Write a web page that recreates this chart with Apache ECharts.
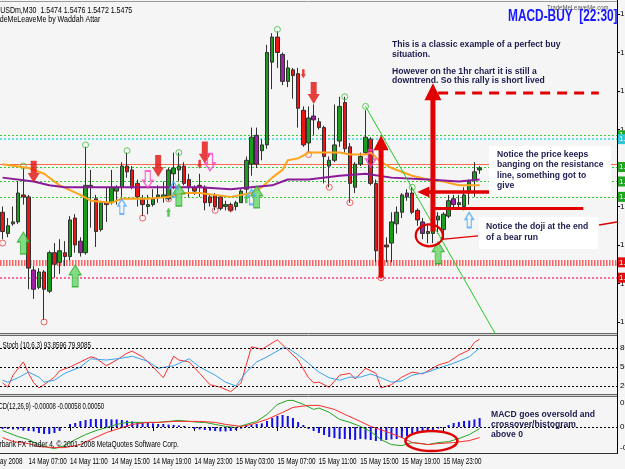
<!DOCTYPE html>
<html>
<head>
<meta charset="utf-8">
<title>GBPUSDm M30 - MACD-BUY</title>
<script src="https://cdn.jsdelivr.net/npm/echarts@6/dist/echarts.min.js"></script>
<style>
html,body{margin:0;padding:0;background:#f5f5f5;}
#chart{width:625px;height:469px;}
</style>
</head>
<body>
<div id="chart"></div>
<script>
// ================= DATA =================
const slotCount = 119;               // category slots on the time axis (chart shifted right)
const tickLabels = ['14 May 07:00','14 May 11:00','14 May 15:00','14 May 19:00','14 May 23:00',
  '15 May 03:00','15 May 07:00','15 May 11:00','15 May 15:00','15 May 19:00','15 May 23:00'];
const tickBars = [5,13,21,29,37,45,53,61,69,77,85];

// [open, close, low, high]
const candles = [
[1.5452,1.5442,1.5438,1.5455],[1.5441,1.5445,1.5439,1.5449],[1.5446,1.5447,1.5445,1.5455],[1.5447,1.5462,1.5446,1.5468],
[1.5461,1.5460,1.5456,1.5475],[1.5460,1.5423,1.5412,1.5461],[1.5422,1.5412,1.5407,1.5424],[1.5413,1.5421,1.5412,1.5423],
[1.5421,1.5412,1.5396,1.5422],[1.5411,1.5431,1.5410,1.5432],[1.5431,1.5425,1.5418,1.5436],[1.5426,1.5432,1.5420,1.5438],
[1.5431,1.5429,1.5424,1.5437],[1.5429,1.5448,1.5427,1.5450],[1.5449,1.5435,1.5431,1.5451],[1.5437,1.5431,1.5429,1.5439],
[1.5431,1.5466,1.5430,1.5486],[1.5465,1.5466,1.5444,1.5474],[1.5459,1.5442,1.5434,1.5461],[1.5443,1.5457,1.5442,1.5458],
[1.5457,1.5456,1.5447,1.5465],[1.5457,1.5465,1.5456,1.5474],[1.5463,1.5465,1.5456,1.5466],[1.5465,1.5476,1.5460,1.5478],
[1.5476,1.5473,1.5470,1.5483],[1.5474,1.5465,1.5464,1.5476],[1.5467,1.5460,1.5455,1.5469],[1.5459,1.5456,1.5450,1.5461],
[1.5455,1.5456,1.5451,1.5461],[1.5456,1.5459,1.5455,1.5464],[1.5460,1.5461,1.5457,1.5466],[1.5460,1.5461,1.5457,1.5468],
[1.5459,1.5474,1.5458,1.5475],[1.5472,1.5475,1.5464,1.5483],[1.5474,1.5476,1.5468,1.5483],[1.5476,1.5467,1.5466,1.5478],
[1.5469,1.5465,1.5460,1.5472],[1.5465,1.5463,1.5461,1.5466],[1.5466,1.5465,1.5460,1.5472],[1.5465,1.5457,1.5453,1.5466],
[1.5460,1.5457,1.5455,1.5461],[1.5461,1.5455,1.5453,1.5462],[1.5460,1.5454,1.5453,1.5461],[1.5455,1.5456,1.5453,1.5458],
[1.5456,1.5453,1.5452,1.5457],[1.5455,1.5457,1.5453,1.5458],[1.5457,1.5463,1.5457,1.5464],[1.5464,1.5479,1.5461,1.5481],
[1.5477,1.5491,1.5471,1.5496],[1.5492,1.5477,1.5475,1.5496],[1.5484,1.5487,1.5479,1.5490],[1.5487,1.5535,1.5485,1.5539],
[1.5530,1.5543,1.5516,1.5545],[1.5543,1.5535,1.5527,1.5546],[1.5534,1.5520,1.5518,1.5535],[1.5520,1.5527,1.5517,1.5531],
[1.5526,1.5523,1.5511,1.5527],[1.5524,1.5506,1.5496,1.5527],[1.5505,1.5487,1.5486,1.5507],[1.5488,1.5501,1.5483,1.5507],
[1.5502,1.5500,1.5492,1.5508],[1.5499,1.5496,1.5495,1.5501],[1.5496,1.5481,1.5467,1.5497],[1.5476,1.5479,1.5465,1.5481],
[1.5479,1.5487,1.5478,1.5508],[1.5489,1.5507,1.5486,1.5512],[1.5509,1.5485,1.5483,1.5512],[1.5486,1.5467,1.5457,1.5488],
[1.5465,1.5477,1.5462,1.5478],[1.5477,1.5481,1.5476,1.5483],[1.5483,1.5491,1.5482,1.5505],[1.5490,1.5467,1.5466,1.5491],
[1.5467,1.5432,1.5426,1.5469],[1.5433,1.5435,1.5427,1.5438],[1.5435,1.5434,1.5426,1.5439],[1.5436,1.5447,1.5426,1.5452],
[1.5446,1.5452,1.5441,1.5455],[1.5452,1.5461,1.5449,1.5462],[1.5462,1.5460,1.5458,1.5464],[1.5462,1.5452,1.5451,1.5465],
[1.5453,1.5448,1.5445,1.5454],[1.5447,1.5441,1.5438,1.5449],[1.5441,1.5442,1.5436,1.5446],[1.5441,1.5446,1.5436,1.5448],
[1.5448,1.5450,1.5441,1.5452],[1.5443,1.5451,1.5438,1.5452],[1.5450,1.5458,1.5449,1.5461],[1.5459,1.5456,1.5454,1.5461],
[1.5456,1.5457,1.5454,1.5461],[1.5455,1.5461,1.5453,1.5465],[1.5463,1.5468,1.5456,1.5469],[1.5469,1.5473,1.5460,1.5478],
[1.5474,1.5475,1.5472,1.5476]
];
const purpleBars = [6,15,49,54,60,78,81,87];

// moving averages  [bar, price]
const maOrange = [[0,1.5477],[5,1.5475],[8,1.5472],[11,1.5466],[15,1.5461],[17,1.5458],[21,1.5457],[23,1.5459],
  [28,1.5459],[32,1.5460],[35,1.5462],[38,1.5462],[44,1.5460],[48,1.5462],[50,1.5465],[52,1.5470],[54,1.5474],
  [55,1.5479],[57,1.5480],[59,1.5483],[62,1.5483],[65,1.5483],[67,1.5482],[70,1.5482],[71,1.5483],[73,1.5478],
  [75,1.5475],[79,1.5471],[82,1.5469],[85,1.5468],[88,1.5466],[92,1.5466]];
const maPurple = [[0,1.5470],[6,1.5468],[9,1.5466],[12,1.5465],[15,1.5465],[25,1.5465],[38,1.5465],[44,1.5464],
  [48,1.5465],[52,1.5466],[55,1.5469],[59,1.5469],[65,1.5471],[70,1.5472],[75,1.5470],[82,1.5469],[88,1.5468],[92,1.5469]];

// horizontal levels
const levelPrices = [1.5492, 1.5490, 1.5477, 1.54755, 1.5468, 1.5460, 1.5426, 1.5418];
const levelKinds  = ['green','cyan','salmon','green','green','green','band','pink'];

// signal markers [bar, price]
const bigDownArrows   = [[6,1.5473],[30,1.5476],[39,1.5483],[60,1.5514]];
const smallDownArrows = [[58,1.5524],[38,1.5477]];
const greenUpArrows   = [[4,1.5436],[14,1.5419],[34,1.5461],[49,1.5460],[84,1.5431]];
const smallUpArrows   = [[32,1.5452],[47,1.5459]];
const pinkDownArrows  = [[28,1.5469],[40,1.5478],[71,1.5480]];
const blueUpArrows    = [[23,1.5455],[33,1.5464],[48,1.5460],[90,1.5448]];
const highCircles     = [[4,1.5476],[16,1.5487],[24,1.5484],[34,1.5483],[53,1.5547],[66,1.5512],[70,1.5507],[79,1.5465]];
const lowCircles      = [[0,1.5436],[8,1.5395],[27,1.5449],[32,1.5459],[41,1.5453],[44,1.5454],[59,1.5482],[63,1.5465],[67,1.5457],[73,1.5418]];

// Stochastic (10,6,3)
const stochK = [[0,25],[1,18],[2,37],[4,58],[5,40],[6,25],[7,17],[8,22],[10,34],[11,44],[13,50],[15,58],[17,66],[18,64],
  [20,52],[22,61],[24,72],[25,75],[27,66],[29,50],[31,33],[33,67],[34,61],[36,58],[38,40],[40,22],[42,18],[44,11],[46,25],
  [48,82],[50,78],[53,93],[55,77],[57,61],[59,33],[60,25],[61,26],[63,18],[65,37],[67,40],[68,31],[70,48],[72,40],[73,17],
  [75,22],[77,34],[79,42],[81,39],[84,53],[86,58],[88,69],[90,77],[91,89],[92,94]];
const stochD = [[0,29],[1,26],[3,33],[5,42],[7,34],[8,26],[10,29],[12,40],[15,50],[17,63],[20,61],[23,64],[25,67],[28,59],
  [30,48],[33,52],[36,63],[38,50],[41,37],[43,26],[45,20],[47,42],[49,58],[51,66],[54,80],[55,80],[57,69],[59,56],[61,42],
  [63,33],[65,29],[67,34],[69,34],[71,39],[73,33],[75,26],[77,28],[79,37],[82,42],[84,48],[87,56],[90,66],[92,80]];
const stochLevels = [80, 50, 20];

// MACD (12,26,9)
const macdHist = [-0.00010,-0.00010,-0.00012,-0.00012,-0.00018,-0.00020,-0.00022,-0.00030,-0.00035,-0.00035,-0.00030,
  -0.00020,-0.00005,0.00015,0.00020,0.00030,0.00035,0.00040,0.00040,0.00040,0.00040,0.00038,0.00038,0.00035,0.00032,
  0.00028,0.00025,0.00022,0.00020,0.00018,0.00015,0.00015,0.00012,0.00010,0.00008,0.00005,
  -0.00005,-0.00010,-0.00012,-0.00015,-0.00018,-0.00020,-0.00022,-0.00022,-0.00020,-0.00015,-0.00008,
  0.00008,0.00012,0.00015,0.00018,0.00030,0.00045,0.00055,0.00060,0.00055,0.00045,0.00025,0.00010,
  -0.00010,-0.00020,-0.00030,-0.00040,-0.00050,-0.00055,-0.00060,-0.00060,-0.00062,-0.00065,-0.00060,-0.00062,-0.00065,
  -0.00070,-0.00068,-0.00065,-0.00062,-0.00060,-0.00055,-0.00045,-0.00038,-0.00030,-0.00025,-0.00020,-0.00015,-0.00008,
  -0.00002,0.00010,0.00020,0.00025,0.00030,0.00032,0.00038,0.00045];
const macdMain = [[0,-0.00018],[1,-0.00028],[3,-0.00048],[5,-0.00063],[7,-0.00088],[9,-0.00103],[10,-0.00108],[12,-0.00093],
  [14,-0.00063],[16,-0.00038],[18,-0.00018],[20,-0.00003],[22,0.00013],[24,0.00023],[26,0.00023],[28,0.00023],[30,0.00023],
  [32,0.00028],[34,0.00033],[36,0.00028],[38,0.00023],[39,0.00023],[41,0.00013],[43,0.00003],[45,-0.00003],[47,0.00013],
  [49,0.00028],[51,0.00063],[53,0.00113],[55,0.00133],[56,0.00133],[58,0.00113],[60,0.00088],[61,0.00095],[63,0.00073],
  [65,0.00038],[67,0.00023],[69,0.00003],[71,-0.00023],[73,-0.00063],[75,-0.00088],[77,-0.00093],[79,-0.00078],
  [81,-0.00083],[82,-0.00088],[84,-0.00078],[86,-0.00073],[88,-0.00058],[90,-0.00038],[92,-0.00008]];
const macdSignal = [[0,-0.00053],[2,-0.00073],[5,-0.00083],[7,-0.00098],[10,-0.00103],[12,-0.00103],[15,-0.00088],
  [17,-0.00063],[20,-0.00028],[23,-0.00003],[25,0.00013],[28,0.00023],[30,0.00023],[33,0.00028],[36,0.00028],[38,0.00028],
  [41,0.00023],[43,0.00013],[46,0.00003],[48,0.00013],[51,0.00038],[54,0.00073],[56,0.00098],[59,0.00108],[61,0.00108],
  [64,0.00088],[66,0.00063],[69,0.00028],[71,0.00003],[74,-0.00023],[77,-0.00053],[79,-0.00078],[82,-0.00088],
  [84,-0.00083],[87,-0.00078],[90,-0.00068],[92,-0.00053]];
const macdLabels = [0.00122, 0, -0.00102];

// annotation anchors [bar, price] (main) / [bar, value] (MACD)
const anchorDashed   = [[84,1.5514],[115,1.5514]];
const anchorArrowA   = [73,1.5492,1.5418];   // bar, tip, base
const anchorArrowB   = [83,1.5519,1.5442];
const anchorLeftArr  = [[94,1.54625],[80,1.54625]];
const anchorHLine    = [[83,1.5454],[112,1.5454]];
const anchorDoji     = [82,1.5440];
const anchorTrend    = [[70,1.5507],[95,1.5389]];
const anchorMacdOval = [83,-0.0007];

// ================= CHART =================
const FB = '"Liberation Sans",Arial,sans-serif';
const cats = Array.from({length: slotCount}, (_, i) => String(i));
const chart = echarts.init(document.getElementById('chart'), null, {renderer: 'canvas'});

const levelStyle = {
  green:  {line: {color:'#33cc33', width:1, type:[2,2]}, bg:'#1fa51f'},
  cyan:   {line: {color:'#33dede', width:1.5, type:[2,2]}, bg:'#30c8d8'},
  salmon: {line: {color:'#ff6a4a', width:1.2, type:'solid'}, bg:null},
  band:   {line: {color:'#ff6060', width:6, type:[1.5,1.5]}, bg:'#e01010'},
  pink:   {line: {color:'#ff3a80', width:1.5, type:[2,2]}, bg:'#e01010'}
};
const levelMarks = levelPrices.map((p, k) => {
  const s = levelStyle[levelKinds[k]];
  return {yAxis: p, lineStyle: s.line,
    label: s.bg ? {show:true, position:'end', distance:0, formatter: p.toFixed(4), color:'#fff',
      backgroundColor:s.bg, fontSize:8, fontFamily:FB, padding:[1,2]} : {show:false}};
});

const candleData = candles.map((c, i) => purpleBars.includes(i)
  ? {value: c, itemStyle: {color0:'#a020a8', borderColor0:'#303030'}} : c);

const arrowDown = 'path://M3,0L9,0L9,11L12,11L6,20L0,11L3,11Z';
const arrowUp = 'path://M6,0L12,9L9,9L9,20L3,20L3,9L0,9Z';
function markerSeries(data, symbol, size, style, z) {
  return {type:'scatter', xAxisIndex:0, yAxisIndex:0, data, symbol, symbolSize:size,
    itemStyle:style, silent:true, clip:false, z: z || 4, animation:false};
}

const axisX = (gi, show) => ({
  type:'category', gridIndex:gi, data:cats, boundaryGap:true,
  axisLine:{show:false},
  axisTick: show ? {show:true, alignWithLabel:true, length:4, interval:(i)=>tickBars.includes(i), lineStyle:{color:'#000'}} : {show:false},
  axisLabel:{show:false},
  splitLine:{show:false}
});

const option = {
  animation:false,
  backgroundColor:'#f5f5f5',
  grid:[
    {left:0, right:8, top:14, height:308, outerBoundsMode:'none', containLabel:false},
    {left:0, right:8, top:335.4, height:63.2, outerBoundsMode:'none', containLabel:false},
    {left:0, right:8, top:397, height:56, outerBoundsMode:'none', containLabel:false}
  ],
  xAxis:[axisX(0,false), axisX(1,false), axisX(2,true)],
  yAxis:[
    {type:'value', gridIndex:0, position:'right', min:1.5395, max:1.5555, interval:0.002,
      axisLine:{show:false}, axisTick:{show:true, length:3, lineStyle:{color:'#000'}},
      axisLabel:{show:true, fontSize:8, fontFamily:FB, color:'#000', margin:3, formatter:(v)=>v.toFixed(4)},
      splitLine:{show:false}},
    {type:'value', gridIndex:1, position:'right', min:0, max:100, interval:10,
      axisLine:{show:false}, axisTick:{show:false},
      axisLabel:{show:true, fontSize:8, fontFamily:FB, color:'#000', margin:3,
        formatter:(v)=> stochLevels.includes(v) ? String(v) : ''},
      splitLine:{show:false}},
    {type:'value', gridIndex:2, position:'right', min:-0.0013, max:0.0015,
      axisLine:{show:false}, axisTick:{show:false}, axisLabel:{show:false}, splitLine:{show:false}}
  ],
  series:[
    {type:'candlestick', name:'GBPUSDm', xAxisIndex:0, yAxisIndex:0, data:candleData, barWidth:4, clip:false, z:3,
      itemStyle:{color:'#1c9c1c', color0:'#ee1414', borderColor:'#303030', borderColor0:'#303030', borderWidth:1},
      markLine:{silent:true, symbol:['none','none'], precision:6, animation:false, z:1, data:levelMarks}},
    {type:'line', xAxisIndex:0, yAxisIndex:0, data:maOrange, showSymbol:false, connectNulls:true, z:5,
      lineStyle:{color:'#ffa41c', width:2}, silent:true},
    {type:'line', xAxisIndex:0, yAxisIndex:0, data:maPurple, showSymbol:false, connectNulls:true, z:5,
      lineStyle:{color:'#8a1a98', width:2}, silent:true},
    markerSeries(highCircles, 'circle', 6, {color:'rgba(0,0,0,0)', borderColor:'#3cc03c', borderWidth:1}),
    markerSeries(lowCircles, 'circle', 6, {color:'rgba(0,0,0,0)', borderColor:'#e84040', borderWidth:1}),
    markerSeries(bigDownArrows, arrowDown, [12,22], {color:'#e41010'}, 6),
    markerSeries(smallDownArrows, arrowDown, [5,9], {color:'#e41010'}, 6),
    markerSeries(greenUpArrows, arrowUp, [12,22], {color:'#66d466', borderColor:'#22aa22', borderWidth:1}, 6),
    markerSeries(smallUpArrows, arrowUp, [5,9], {color:'#33bb33'}, 6),
    markerSeries(pinkDownArrows, arrowDown, [10,17], {color:'rgba(0,0,0,0)', borderColor:'#ff40c8', borderWidth:1.5}, 6),
    markerSeries(blueUpArrows, arrowUp, [8,15], {color:'rgba(0,0,0,0)', borderColor:'#4aa8ff', borderWidth:1.5}, 6),
    // stochastic
    {type:'line', xAxisIndex:1, yAxisIndex:1, data:stochK, showSymbol:false, lineStyle:{color:'#ff3030', width:1}, silent:true,
      markLine:{silent:true, symbol:['none','none'], precision:6, label:{show:false}, animation:false,
        lineStyle:{color:'#000', width:1, type:[2,2]}, data: stochLevels.map(v=>({yAxis:v}))}},
    {type:'line', xAxisIndex:1, yAxisIndex:1, data:stochD, showSymbol:false, lineStyle:{color:'#3aa2f0', width:1}, silent:true},
    // MACD
    {type:'bar', xAxisIndex:2, yAxisIndex:2, data:macdHist, barWidth:2, itemStyle:{color:'#1212e6'}, silent:true,
      markLine:{silent:true, symbol:['none','none'], precision:6, label:{show:false}, animation:false,
        lineStyle:{color:'#000', width:1, type:[2,2]}, data:[{yAxis:0}]}},
    {type:'line', xAxisIndex:2, yAxisIndex:2, data:macdMain, showSymbol:false, lineStyle:{color:'#22a522', width:1}, silent:true},
    {type:'line', xAxisIndex:2, yAxisIndex:2, data:macdSignal, showSymbol:false, lineStyle:{color:'#ff2a2a', width:1}, silent:true}
  ]
};
chart.setOption(option);

// ================= ANNOTATIONS =================
const P = (a) => chart.convertToPixel({gridIndex:0}, [a[0], a[1]]);
const PM = (a) => chart.convertToPixel({gridIndex:2}, [a[0], a[1]]);
const RED = '#e00000';
const NAVY = '#1c1c4e';
function ln(x1,y1,x2,y2,stroke,w,dash,z){return {type:'line', z:z||100, silent:true, shape:{x1,y1,x2,y2}, style:{stroke, lineWidth:w, lineDash:dash||null}};}
function txt(x,y,s,o){return {type:'text', x, y, z:(o&&o.z)||110, silent:true, scaleX:(o&&o.sx)||1,
  style:Object.assign({text:s, x:0, y:0, fill:'#000', fontSize:8, fontFamily:FB, align:'left', verticalAlign:'middle',
  textAlign:'left', textVerticalAlign:'middle'}, o&&o.st)};}
function vArrow(x, yTip, yBase, shaft, headW, headH){
  return {type:'polygon', z:104, silent:true, shape:{points:[[x-shaft/2,yBase],[x-shaft/2,yTip+headH],[x-headW/2,yTip+headH],
    [x,yTip],[x+headW/2,yTip+headH],[x+shaft/2,yTip+headH],[x+shaft/2,yBase]]}, style:{fill:RED}};
}
const g = [];
const W = 617;
// panel frames
g.push({type:'rect', z:50, silent:true, shape:{x:0,y:333,width:W,height:3}, style:{fill:'#d4d4d4'}});
g.push({type:'rect', z:50, silent:true, shape:{x:0,y:394,width:W,height:3}, style:{fill:'#d4d4d4'}});
g.push(ln(0,1.5,W,1.5,'#9a9a9a',1,null,51));
g.push(ln(0,333.5,W,333.5,'#6a6a6a',1,null,51));
g.push(ln(0,335.5,W,335.5,'#6a6a6a',1,null,51));
g.push(ln(0,394.5,W,394.5,'#6a6a6a',1,null,51));
g.push(ln(0,396.5,W,396.5,'#6a6a6a',1,null,51));
g.push(ln(0,453.5,W+1,453.5,'#303030',1,null,51));
g.push(ln(W+0.5,0,W+0.5,453.5,'#000',1,null,51));

// trend line
const t1 = P(anchorTrend[0]), t2 = P(anchorTrend[1]);
g.push(ln(t1[0],t1[1],t2[0],t2[1],'#22cc22',1,null,95));
// dashed red line
const d1 = P(anchorDashed[0]), d2 = P(anchorDashed[1]);
g.push(ln(d1[0],d1[1],d2[0],d2[1],RED,3,[10,7]));
// vertical arrows
const aT = P([anchorArrowA[0],anchorArrowA[1]]), aB = P([anchorArrowA[0],anchorArrowA[2]]);
g.push(vArrow(aT[0], aT[1], aB[1], 5, 15, 15));
const bT = P([anchorArrowB[0],anchorArrowB[1]]), bB = P([anchorArrowB[0],anchorArrowB[2]]);
g.push(vArrow(bT[0], bT[1], bB[1], 5, 17, 17));
// horizontal red line
const h1 = P(anchorHLine[0]), h2 = P(anchorHLine[1]);
g.push(ln(h1[0],h1[1],h2[0],h2[1],RED,3));
// left pointing arrow
const l1 = P(anchorLeftArr[0]), l2 = P(anchorLeftArr[1]);
g.push(ln(l1[0],l1[1],l2[0]+11,l2[1],RED,3.5));
g.push({type:'polygon', z:104, silent:true, shape:{points:[[l2[0],l2[1]],[l2[0]+12,l2[1]-5.5],[l2[0]+12,l2[1]+5.5]]}, style:{fill:RED}});
// doji ellipse
const dj = P(anchorDoji);
g.push({type:'ellipse', z:104, silent:true, shape:{cx:dj[0]+1.5, cy:dj[1], rx:13.5, ry:11}, style:{fill:'none', stroke:RED, lineWidth:2.2}});
g.push(ln(dj[0]+14, dj[1]+4, 478, dj[1]+0.5, RED, 1.5));
g.push(ln(599, 225, 617, 222, RED, 1.5));
// MACD ellipse
const mo = PM(anchorMacdOval);
g.push({type:'ellipse', z:104, silent:true, shape:{cx:mo[0]-1.5, cy:mo[1], rx:26, ry:10}, style:{fill:'none', stroke:RED, lineWidth:2.5}});

// text boxes
g.push({type:'rect', z:105, silent:true, shape:{x:489,y:146,width:122,height:50}, style:{fill:'#ffffff'}});
g.push({type:'rect', z:105, silent:true, shape:{x:479,y:217,width:119,height:32}, style:{fill:'#ffffff'}});
const bold = () => ({st:{fill:NAVY, fontSize:8.6, fontWeight:'bold', fontFamily:FB}});
[['This is a classic example of a perfect buy',45],['situation.',55],
 ['However on the 1hr chart it is still a',72],['downtrend. So this rally is short lived',81]]
  .forEach(([s,y]) => g.push(txt(392,y,s,bold())));
[['Notice the price keeps',155],['banging on the resistance',165],['line, something got to',176],['give',186]]
  .forEach(([s,y]) => g.push(txt(497,y,s,bold())));
[['Notice the doji at the end',227],['of a bear run',238]].forEach(([s,y]) => g.push(txt(486,y,s,bold())));
[['MACD goes oversold and',415],['crossover/histogram',425],['above 0',435]].forEach(([s,y]) => g.push(txt(491,y,s,bold())));

// titles / panel labels (narrow MT4 look)
g.push(txt(547, 8, 'TradeMeLeaveMe.com', {sx:0.8, st:{fill:'#555', fontSize:7.5}}));
g.push(txt(508, 16, 'MACD-BUY  [22:30]', {sx:0.72, st:{fill:'#1818ff', fontSize:16.5, fontWeight:'bold', fontFamily:FB}}));
g.push(txt(-14.7, 10, 'GBPUSDm,M30  1.5474 1.5476 1.5472 1.5475', {sx:0.74, st:{fontSize:9.5}}));
g.push(txt(-10.5, 19, 'TradeMeLeaveMe by Waddah Attar', {sx:0.74, st:{fontSize:9.5}}));
g.push(txt(2.5, 346, 'Stoch (10,6,3) 93.8596 79.9085', {sx:0.7, st:{fontSize:9}}));
g.push(txt(-10.5, 407, 'MACD(12,26,9) -0.00008 -0.00058 0.00050', {sx:0.66, st:{fontSize:9}}));
g.push(txt(-11.6, 444, 'Interbank FX Trader 4, \u00a9 2001-2008 MetaQuotes Software Corp.', {sx:0.72, st:{fontSize:9.2}}));
// time axis labels, placed at their bars through the category axis
g.push(txt(-14, 462, '14 May 2008', {sx:0.7, st:{fontSize:9}}));
tickBars.forEach((b, k) => { const p = PM([b, 0]); g.push(txt(p[0], 462, tickLabels[k], {sx:0.7, st:{fontSize:9}})); });
macdLabels.forEach(v => { const p = PM([0, v]); g.push(txt(620, p[1], v === 0 ? '0.00' : v.toFixed(6), {st:{fontSize:8}})); });

chart.setOption({graphic: g});
</script>
</body>
</html>
